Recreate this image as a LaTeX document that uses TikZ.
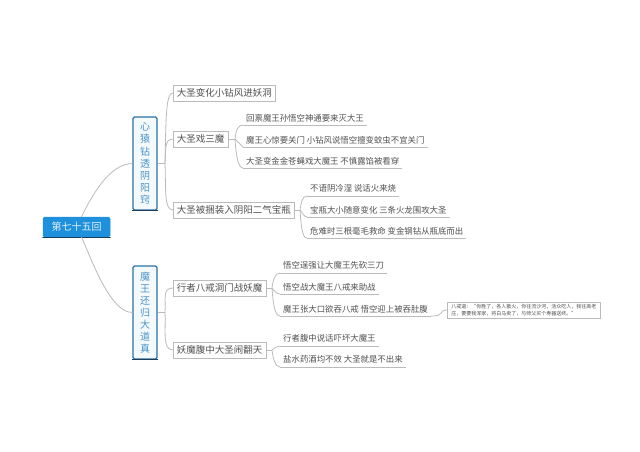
\documentclass[tikz,border=0pt]{standalone}
\usepackage{fontspec}
\setmainfont{Noto Sans CJK SC}[Scale=1]
\definecolor{rootblue}{HTML}{1E90DC}
\definecolor{rootedge}{HTML}{1A3E5C}
\definecolor{boxblue}{HTML}{4A94C8}
\definecolor{boxedge}{HTML}{2A72A6}
\definecolor{linegray}{HTML}{BBBBBB}
\definecolor{txtgray}{HTML}{505050}
\newcommand{\fs}[1]{\fontsize{#1}{#1}\selectfont}
\tikzset{
  rootbox/.style={draw=rootblue,line width=0.5pt,fill=rootblue,rounded corners=1.5pt,text=white!88!rootblue,minimum width=67,minimum height=20,inner sep=0pt,font=\fs{10}},
  topicbox/.style={draw=boxedge,line width=1.1pt,fill=white!94!boxblue,rounded corners=1.5pt,text=boxblue,minimum width=24,minimum height=93,inner sep=0pt,align=center,font=\fontsize{10}{12.1}\selectfont},
  subbox/.style={draw=linegray,line width=0.8pt,fill=white,text=txtgray,minimum height=16,inner xsep=3.5pt,inner ysep=0pt,anchor=west,font=\fs{9.5}},
  leaf/.style={text=txtgray,inner xsep=3pt,inner ysep=0pt,minimum height=14,anchor=south west,font=\fs{8.4}},
  notebox/.style={draw=linegray,line width=0.6pt,fill=white,text=txtgray,minimum width=153,minimum height=16,inner xsep=2pt,inner ysep=0pt,anchor=west,align=left,font=\fontsize{5}{6.4}\selectfont},
  conn/.style={draw=linegray,line width=0.8pt},
  baseline edge/.style={draw=rootedge,line width=1pt,line cap=round},
}
\newcommand{\leafnode}[4]{%
  \node[leaf] (#1) at (#2,#3) {#4};
  \draw[conn] (#1.south west) -- (#1.south east);}
\begin{document}
\begin{tikzpicture}[x=1pt,y=-1pt]
\useasboundingbox (0,0) rectangle (640,451);
\fill[white] (0,0) rectangle (640,451);

% leaves
\leafnode{a}{243}{125}{回禀魔王孙悟空神通要来灭大王}
\leafnode{b}{243}{147}{魔王心惊要关门 小钻风说悟空擅变蚊虫不宜关门}
\leafnode{c}{243}{168}{大圣变金金苍蝇戏大魔王 不慎露馅被看穿}
\leafnode{d}{307}{196}{不语阴冷湿 说话火来烧}
\leafnode{e}{307}{217}{宝瓶大小随意变化 三条火龙围攻大圣}
\leafnode{f}{307}{238}{危难时三根毫毛救命 变金钢钻从瓶底而出}
\leafnode{g}{280}{273}{悟空逞强让大魔王先砍三刀}
\leafnode{h}{280}{294}{悟空战大魔王八戒来助战}
\leafnode{i}{280}{316}{魔王张大口欲吞八戒 悟空迎上被吞肚腹}
\leafnode{j}{280}{346}{行者腹中说话吓坏大魔王}
\leafnode{k}{280}{367}{盐水药酒均不效 大圣就是不出来}

% main nodes
\node[rootbox] (root) at (76.5,227) {第七十五回};
\draw[baseline edge] (root.south west) -- (root.south east);
\node[topicbox] (t1) at (145,163.5) {心\\猿\\钻\\透\\阴\\阳\\窍};
\draw[baseline edge] (t1.south west) -- (t1.south east);
\node[topicbox] (t2) at (145,312.5) {魔\\王\\还\\归\\大\\道\\真};
\draw[baseline edge] (t2.south west) -- (t2.south east);
\node[subbox] (s1) at (173,93) {大圣变化小钻风进妖洞};
\node[subbox] (s2) at (173,139) {大圣戏三魔};
\node[subbox] (s3) at (173,210) {大圣被捆装入阴阳二气宝瓶};
\node[subbox] (s4) at (173,288) {行者八戒洞门战妖魔};
\node[subbox] (s5) at (173,350) {妖魔腹中大圣闹翻天};
\node[notebox] (note) at (447,310) {八戒道：“你胜了，各人散火，你往流沙河，活众吃人，我往高老\\庄，要要我浑家，将白马卖了，与师父买个寿器送终。”};

% junctions
\coordinate (j1) at (165,163.5);
\coordinate (j2) at (165,312.5);
\coordinate (j3) at (235,139);
\coordinate (j4) at (300,210);
\coordinate (j5) at (272,288);
\coordinate (j6) at (272,350);

% connectors
\draw[conn] (root.north) ++(5,0) .. controls (92,195) and (110,163.5) .. (t1.west);
\draw[conn] (root.south) ++(5,0) .. controls (92,260) and (110,312.5) .. (t2.west);
\draw[conn] (t1.east) -- (j1);
\draw[conn] (j1) .. controls (166,115) and (166,93) .. (s1.west);
\draw[conn] (j1) .. controls (166,150) and (164,139) .. (s2.west);
\draw[conn] (j1) .. controls (166,190) and (164,210) .. (s3.west);
\draw[conn] (t2.east) -- (j2);
\draw[conn] (j2) .. controls (166,300) and (162,288) .. (s4.west);
\draw[conn] (j2) .. controls (166,330) and (162,350) .. (s5.west);
\draw[conn] (s2.east) -- (j3);
\draw[conn] (j3) .. controls (236,130) and (238,125) .. (a.south west);
\draw[conn] (j3) -- (b.south west);
\draw[conn] (j3) .. controls (236,155) and (238,168) .. (c.south west);
\draw[conn] (s3.east) -- (j4);
\draw[conn] (j4) .. controls (301,203) and (302,196) .. (d.south west);
\draw[conn] (j4) .. controls (302,212) and (304,217) .. (e.south west);
\draw[conn] (j4) .. controls (301,225) and (302,238) .. (f.south west);
\draw[conn] (s4.east) -- (j5);
\draw[conn] (j5) .. controls (273,280) and (275,273) .. (g.south west);
\draw[conn] (j5) .. controls (274,291) and (277,294) .. (h.south west);
\draw[conn] (j5) .. controls (273,300) and (274,316) .. (i.south west);
\draw[conn] (s5.east) -- (j6);
\draw[conn] (j6) .. controls (274,348) and (277,346) .. (j.south west);
\draw[conn] (j6) .. controls (273,358) and (275,367) .. (k.south west);
\draw[conn] (i.south east) .. controls (446,316) and (438,310) .. (note.west);
\end{tikzpicture}
\end{document}
